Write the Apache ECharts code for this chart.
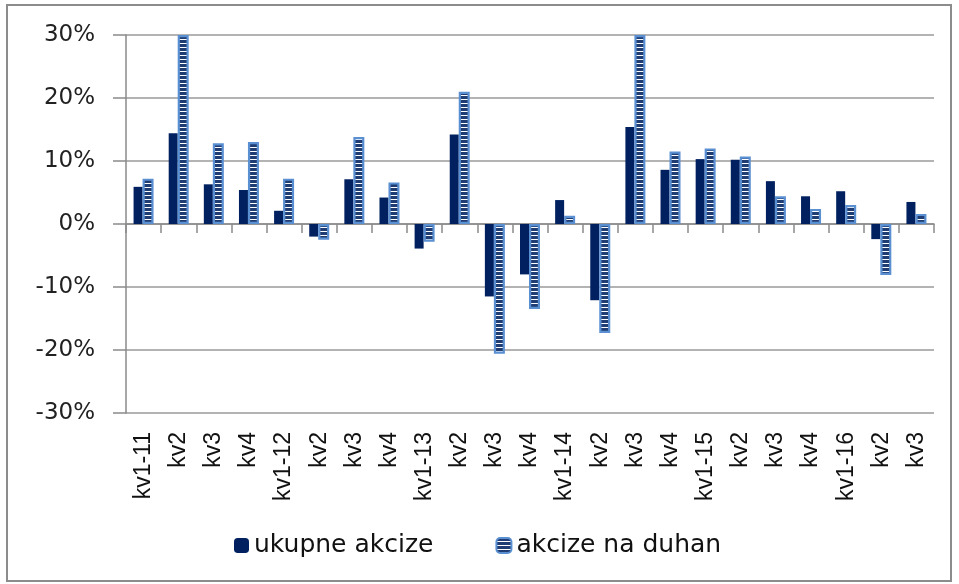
<!DOCTYPE html>
<html>
<head>
<meta charset="utf-8">
<script src="https://cdn.jsdelivr.net/npm/echarts@6/dist/echarts.min.js"></script>
<style>html,body{margin:0;padding:0;background:#fff}#c{width:959px;height:584px}</style>
</head>
<body>
<div id="c"></div>
<script>
const categories = ['kv1-11','kv2','kv3','kv4','kv1-12','kv2','kv3','kv4','kv1-13','kv2','kv3','kv4','kv1-14','kv2','kv3','kv4','kv1-15','kv2','kv3','kv4','kv1-16','kv2','kv3'];
const ukupneAkcize = [5.9, 14.4, 6.3, 5.4, 2.1, -2.0, 7.1, 4.2, -3.9, 14.2, -11.5, -8.0, 3.8, -12.1, 15.4, 8.6, 10.3, 10.2, 6.8, 4.4, 5.2, -2.4, 3.5];
const akcizeNaDuhan = [7.2, 30, 12.8, 13.0, 7.2, -2.5, 13.8, 6.6, -2.8, 21.0, -20.6, -13.5, 1.3, -17.3, 30, 11.5, 12.0, 10.7, 4.4, 2.4, 3.0, -8.1, 1.6];
const yTicks = {min: -30, max: 30, interval: 10};

// stripe pattern
const pc = document.createElement('canvas');
pc.width = 8; pc.height = 4;
const px = pc.getContext('2d');
px.fillStyle = '#ffffff'; px.fillRect(0, 0, 8, 4);
px.fillStyle = '#1f3d73'; px.fillRect(0, 0, 8, 3);

const chart = echarts.init(document.getElementById('c'), null, {renderer: 'canvas'});
const axisGray = '#8a8a8a';
chart.setOption({
  animation: false,
  backgroundColor: '#ffffff',
  graphic: [{
    type: 'rect', shape: {x: 7, y: 5, width: 944, height: 576},
    style: {fill: 'none', stroke: '#8c8c8c', lineWidth: 2}, silent: true, z: -1
  }],
  grid: {left: 126, right: 25, top: 35, bottom: 171},
  legend: {
    left: 229, top: 528, itemWidth: 15, itemHeight: 15, itemGap: 62,
    textStyle: {fontFamily: 'DejaVu Sans', fontSize: 25, color: '#111'},
    data: ['ukupne akcize', 'akcize na duhan']
  },
  xAxis: [{
    type: 'category', data: categories, position: 'bottom',
    axisLine: {onZero: true, lineStyle: {color: axisGray, width: 1.5}},
    axisTick: {show: true, length: 9, interval: 0, lineStyle: {color: axisGray, width: 1.5}},
    axisLabel: {show: false}, splitLine: {show: false}
  }, {
    type: 'category', data: categories, position: 'bottom',
    axisLine: {show: false, onZero: false}, axisTick: {show: false},
    axisLabel: {show: true, interval: 0, rotate: 90, margin: 19,
      fontFamily: 'Liberation Sans', fontSize: 23, color: '#111'}
  }],
  yAxis: {
    type: 'value', min: yTicks.min, max: yTicks.max, interval: yTicks.interval,
    axisLine: {show: true, lineStyle: {color: axisGray, width: 1.5}},
    axisTick: {show: true, length: 13, lineStyle: {color: axisGray, width: 1.5}},
    axisLabel: {formatter: '{value}%', margin: 31, fontFamily: 'DejaVu Sans', fontSize: 23, color: '#222'},
    splitLine: {show: true, lineStyle: {color: '#9a9a9a', width: 1.5}}
  },
  series: [{
    name: 'ukupne akcize', type: 'bar', xAxisIndex: 0, data: ukupneAkcize,
    barWidth: 9, barGap: '0%',
    itemStyle: {color: '#00205f'}
  }, {
    name: 'akcize na duhan', type: 'bar', xAxisIndex: 0, data: akcizeNaDuhan,
    barWidth: 11, barGap: '0%',
    itemStyle: {color: {image: pc, repeat: 'repeat'}, borderColor: '#5a8fd2', borderWidth: 2.2}
  }]
});
</script>
</body>
</html>
